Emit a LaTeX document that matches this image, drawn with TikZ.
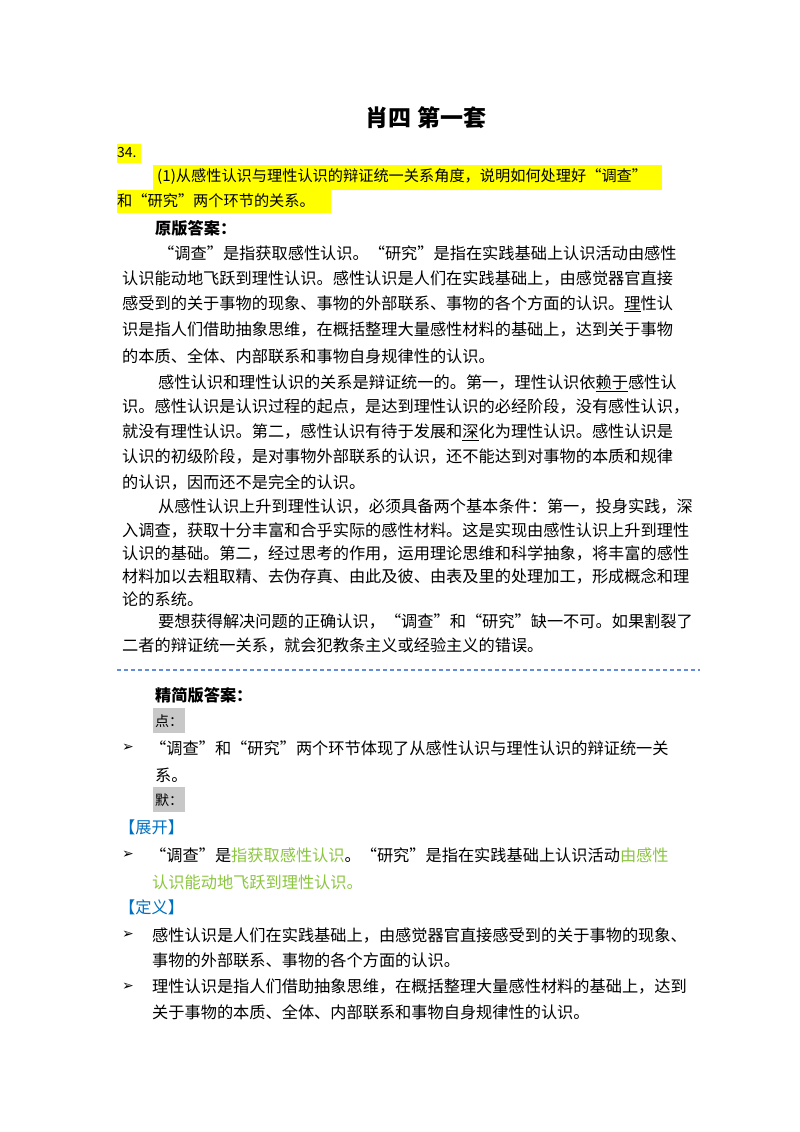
\documentclass[tikz,border=0pt]{standalone}
\usepackage{fontspec}
\setmainfont{Noto Sans CJK SC}
\newfontfamily\dv{DejaVu Sans}
\definecolor{hl}{RGB}{255,255,0}
\definecolor{bl}{RGB}{0,112,192}
\definecolor{gr}{RGB}{140,198,63}
\definecolor{gy}{RGB}{200,200,200}
\definecolor{dl}{RGB}{100,140,215}
\newcommand\TLine[4]{\node[tx] (#1) at (#2,#3) {#4};}
\tikzset{tx/.style={anchor=west,inner sep=0pt,font=\fontsize{16.2}{20}\selectfont},
 qx/.style={tx,font=\fontsize{15.2}{19}\selectfont},
 hd/.style={tx,font=\fontsize{16.2}{20}\selectfont\bfseries},
 arr/.style={tx,font=\dv\fontsize{14}{16}\selectfont}}
\begin{document}
\begin{tikzpicture}[x=1pt,y=-1pt]
\useasboundingbox[fill=white] (0,0) rectangle (800,1132);
\node[anchor=center,inner sep=0pt,font=\fontsize{23}{26}\selectfont\bfseries] (title) at (426,118) {肖四\ 第一套};
\fill[hl] (117,144) rectangle (141,163);
\fill[hl] (153,165) rectangle (662,190);
\fill[hl] (117,190) rectangle (331,213);
\node[tx,font=\fontsize{14}{16}\selectfont] (n34) at (117,153) {34.};
\TLine{q1}{157}{177}{\fontsize{15.2}{19}\selectfont (1)从感性认识与理性认识的辩证统一关系角度，说明如何处理好“调查”}
\TLine{q2}{117}{201}{\fontsize{15.2}{19}\selectfont 和“研究”两个环节的关系。}
\node[hd] (yb) at (155,228) {原版答案：};
\TLine{a1}{158}{253}{“调查”是指获取感性认识。“研究”是指在实践基础上认识活动由感性}
\TLine{a2}{122}{279}{认识能动地飞跃到理性认识。感性认识是人们在实践基础上，由感觉器官直接}
\TLine{a3}{122}{304}{感受到的关于事物的现象、事物的外部联系、事物的各个方面的认识。\underline{理}性认}
\TLine{a4}{122}{330}{识是指人们借助抽象思维，在概括整理大量感性材料的基础上，达到关于事物}
\TLine{a5}{122}{356}{的本质、全体、内部联系和事物自身规律性的认识。}
\TLine{b1}{158}{383}{感性认识和理性认识的关系是辩证统一的。第一，理性认识依\underline{赖于}感性认}
\TLine{b2}{122}{407}{识。感性认识是认识过程的起点，是达到理性认识的必经阶段，没有感性认识，}
\TLine{b3}{122}{432}{就没有理性认识。第二，感性认识有待于发展和\underline{深}化为理性认识。感性认识是}
\TLine{b4}{122}{457}{认识的初级阶段，是对事物外部联系的认识，还不能达到对事物的本质和规律}
\TLine{b5}{122}{482}{的认识，因而还不是完全的认识。}
\TLine{c1}{158}{506}{从感性认识上升到理性认识，必须具备两个基本条件：第一，投身实践，深}
\TLine{c2}{122}{530}{入调查，获取十分丰富和合乎实际的感性材料。这是实现由感性认识上升到理性}
\TLine{c3}{122}{553}{认识的基础。第二，经过思考的作用，运用理论思维和科学抽象，将丰富的感性}
\TLine{c4}{122}{576}{材料加以去粗取精、去伪存真、由此及彼、由表及里的处理加工，形成概念和理}
\TLine{c5}{122}{599}{论的系统。}
\TLine{d1}{158}{621}{要想获得解决问题的正确认识，“调查”和“研究”缺一不可。如果割裂了}
\TLine{d2}{122}{645}{二者的辩证统一关系，就会犯教条主义或经验主义的错误。}
\coordinate (dA) at (117,670); \coordinate (dB) at (700,670);
\draw[dl,line width=1.1pt,dash pattern=on 4pt off 3pt] (dA) -- (dB);
\node[hd] (jj) at (155,695) {精简版答案：};
\fill[gy] (153,708) rectangle (185,733);
\TLine{dian}{155}{721}{\fontsize{14}{16}\selectfont 点：}
\node[arr] (r1) at (122,748) {➢};
\TLine{e1}{150}{748}{“调查”和“研究”两个环节体现了从感性认识与理性认识的辩证统一关}
\TLine{e2}{155}{775}{系。}
\fill[gy] (153,787) rectangle (185,812);
\TLine{mo}{155}{800}{\fontsize{14}{16}\selectfont 默：}
\TLine{zk}{119}{827}{\color{bl}【展开】}
\node[arr] (r2) at (122,855) {➢};
\TLine{f1}{150}{855}{“调查”是\textcolor{gr}{指获取感性认识}。“研究”是指在实践基础上认识活动\textcolor{gr}{由感性}}
\TLine{f2}{152}{882}{\color{gr}认识能动地飞跃到理性认识。}
\TLine{dy}{119}{907}{\color{bl}【定义】}
\node[arr] (r3) at (122,935) {➢};
\TLine{g1}{152}{935}{感性认识是人们在实践基础上，由感觉器官直接感受到的关于事物的现象、}
\TLine{g2}{152}{960}{事物的外部联系、事物的各个方面的认识。}
\node[arr] (r4) at (122,987) {➢};
\TLine{h1}{152}{987}{理性认识是指人们借助抽象思维，在概括整理大量感性材料的基础上，达到}
\TLine{h2}{152}{1012}{关于事物的本质、全体、内部联系和事物自身规律性的认识。}
\end{tikzpicture}
\end{document}
